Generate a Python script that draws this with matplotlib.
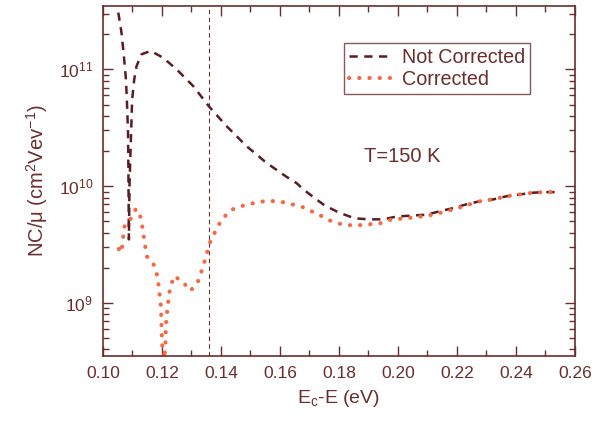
import numpy as np
import matplotlib
matplotlib.use("Agg")
import matplotlib.pyplot as plt
from matplotlib.ticker import LogLocator, MultipleLocator, NullFormatter

plt.rcParams['font.family'] = ['Liberation Sans', 'DejaVu Sans']
plt.rcParams['mathtext.fontset'] = 'custom'
plt.rcParams['mathtext.rm'] = 'Liberation Sans'
plt.rcParams['mathtext.it'] = 'Liberation Sans'

# Not corrected curve (energy in eV, NC/mu)
e_nc = [0.1052, 0.1063, 0.1071, 0.1078, 0.1082, 0.1085, 0.1086, 0.1087, 0.1088,
        0.1090, 0.1094, 0.1099, 0.1106, 0.1114, 0.1131, 0.1162, 0.1204, 0.1250,
        0.1306, 0.1360, 0.1419, 0.1487, 0.1555, 0.1623, 0.1657, 0.1679, 0.1724,
        0.1753, 0.1803, 0.1854, 0.1905, 0.1950, 0.1996, 0.2046, 0.2097, 0.2142,
        0.2188, 0.2233, 0.2284, 0.2323, 0.2368, 0.2414, 0.2459, 0.2498, 0.2543]
nc_not = [3.07e11, 2.06e11, 1.3e11, 8.2e10, 4.8e10, 2.9e10, 1.7e10, 8.0e9, 3.5e9,
          1.0e10, 2.2e10, 5.5e10, 8.2e10, 1.07e11, 1.35e11, 1.44e11, 1.26e11, 1.0e11,
          7.2e10, 4.8e10, 3.27e10, 2.2e10, 1.58e10, 1.2e10, 1.06e10, 9.4e9, 7.7e9,
          6.8e9, 5.9e9, 5.3e9, 5.2e9, 5.2e9, 5.5e9, 5.6e9, 5.7e9, 6.1e9,
          6.5e9, 7.0e9, 7.5e9, 7.7e9, 8.2e9, 8.5e9, 8.8e9, 8.9e9, 8.9e9]

# Corrected curve
e_c = [0.1054, 0.1063, 0.1068, 0.1074, 0.1091, 0.1112, 0.1126, 0.1135, 0.1141,
       0.1149, 0.1174, 0.1186, 0.1191, 0.1196, 0.1198, 0.1199, 0.1201, 0.1208,
       0.1212, 0.1213, 0.1216, 0.1221, 0.1227, 0.1241, 0.1270, 0.1297, 0.1322,
       0.1337, 0.1349, 0.1363, 0.1383, 0.1404, 0.1437, 0.1474, 0.1514, 0.1556,
       0.1600, 0.1641, 0.1679, 0.1738, 0.1775, 0.1812, 0.1854, 0.1896, 0.1939,
       0.1979, 0.2024, 0.2066, 0.2103, 0.2129, 0.2165, 0.2204, 0.2244, 0.2284,
       0.2323, 0.2368, 0.2414, 0.2459, 0.2498, 0.2543]
nc_cor = [2.9e9, 2.7e9, 3.6e9, 4.7e9, 5.1e9, 6.4e9, 5.6e9, 4.3e9, 3.3e9,
          2.5e9, 2.1e9, 1.64e9, 1.24e9, 0.96e9, 0.74e9, 0.56e9, 0.43e9, 0.33e9,
          0.45e9, 0.6e9, 0.78e9, 1.0e9, 1.32e9, 1.7e9, 1.52e9, 1.27e9, 1.52e9,
          1.96e9, 2.48e9, 3.3e9, 4.2e9, 5.25e9, 6.3e9, 6.8e9, 7.2e9, 7.5e9,
          7.4e9, 7.0e9, 6.6e9, 5.6e9, 5.0e9, 4.7e9, 4.6e9, 4.7e9, 4.8e9,
          5.2e9, 5.3e9, 5.45e9, 5.6e9, 5.8e9, 6.1e9, 6.5e9, 7.0e9, 7.5e9,
          7.7e9, 8.2e9, 8.5e9, 8.8e9, 8.9e9, 8.9e9]

e_mark = 0.136
axcol = '#6b2d2d'
darkcol = '#5a1d22'
orange = '#f46a45'

fig = plt.figure(figsize=(6.02, 4.23), dpi=100)
ax = fig.add_axes([0.171, 0.158, 0.784, 0.828])

ax.axvline(e_mark, color=axcol, lw=0.8, ls=(0, (4, 3)))
ax.plot(e_nc, nc_not, color=darkcol, lw=1.8, ls=(0, (3.3, 2.6)), label='Not Corrected')
ax.plot(e_c, nc_cor, color=orange, lw=3.0, ls=(0, (0.05, 2.4)), dash_capstyle='round',
        solid_capstyle='round', label='Corrected')

ax.set_yscale('log')
ax.set_xlim(0.10, 0.26)
ax.set_ylim(3.5e8, 3.5e11)

ax.xaxis.set_major_locator(MultipleLocator(0.02))
ax.xaxis.set_minor_locator(MultipleLocator(0.01))
ax.xaxis.set_major_formatter(matplotlib.ticker.FormatStrFormatter('%.2f'))
ax.yaxis.set_major_locator(LogLocator(base=10, numticks=10))
ax.yaxis.set_minor_locator(LogLocator(base=10, subs=np.arange(2, 10), numticks=10))
ax.yaxis.set_minor_formatter(NullFormatter())

ax.tick_params(which='both', direction='in', top=True, right=True, colors=axcol,
               labelsize=12.5, width=1.0)
ax.tick_params(which='major', length=7, pad=7)
ax.tick_params(which='minor', length=4)
for s in ax.spines.values():
    s.set_color(axcol)
    s.set_linewidth(1.2)

ax.set_xlabel('E$_c$-E (eV)', fontsize=14, color=axcol, labelpad=5)
ax.set_ylabel('NC/\u03bc (cm$^2$Vev$^{-1}$)', fontsize=14.5, color=axcol, labelpad=6)

ax.text(0.2014, 1.8e10, 'T=150 K', fontsize=14.5, color=axcol, ha='center', va='center')

leg = ax.legend(loc='upper left', bbox_to_anchor=(0.511, 0.893), fontsize=14.2,
                frameon=True, fancybox=False, handlelength=2.1, borderpad=0.25,
                labelspacing=0.15, handletextpad=0.6, borderaxespad=0)
leg.get_frame().set_edgecolor(axcol)
leg.get_frame().set_linewidth(1.0)
for t in leg.get_texts():
    t.set_color(axcol)

fig.savefig('out.png', dpi=100)
